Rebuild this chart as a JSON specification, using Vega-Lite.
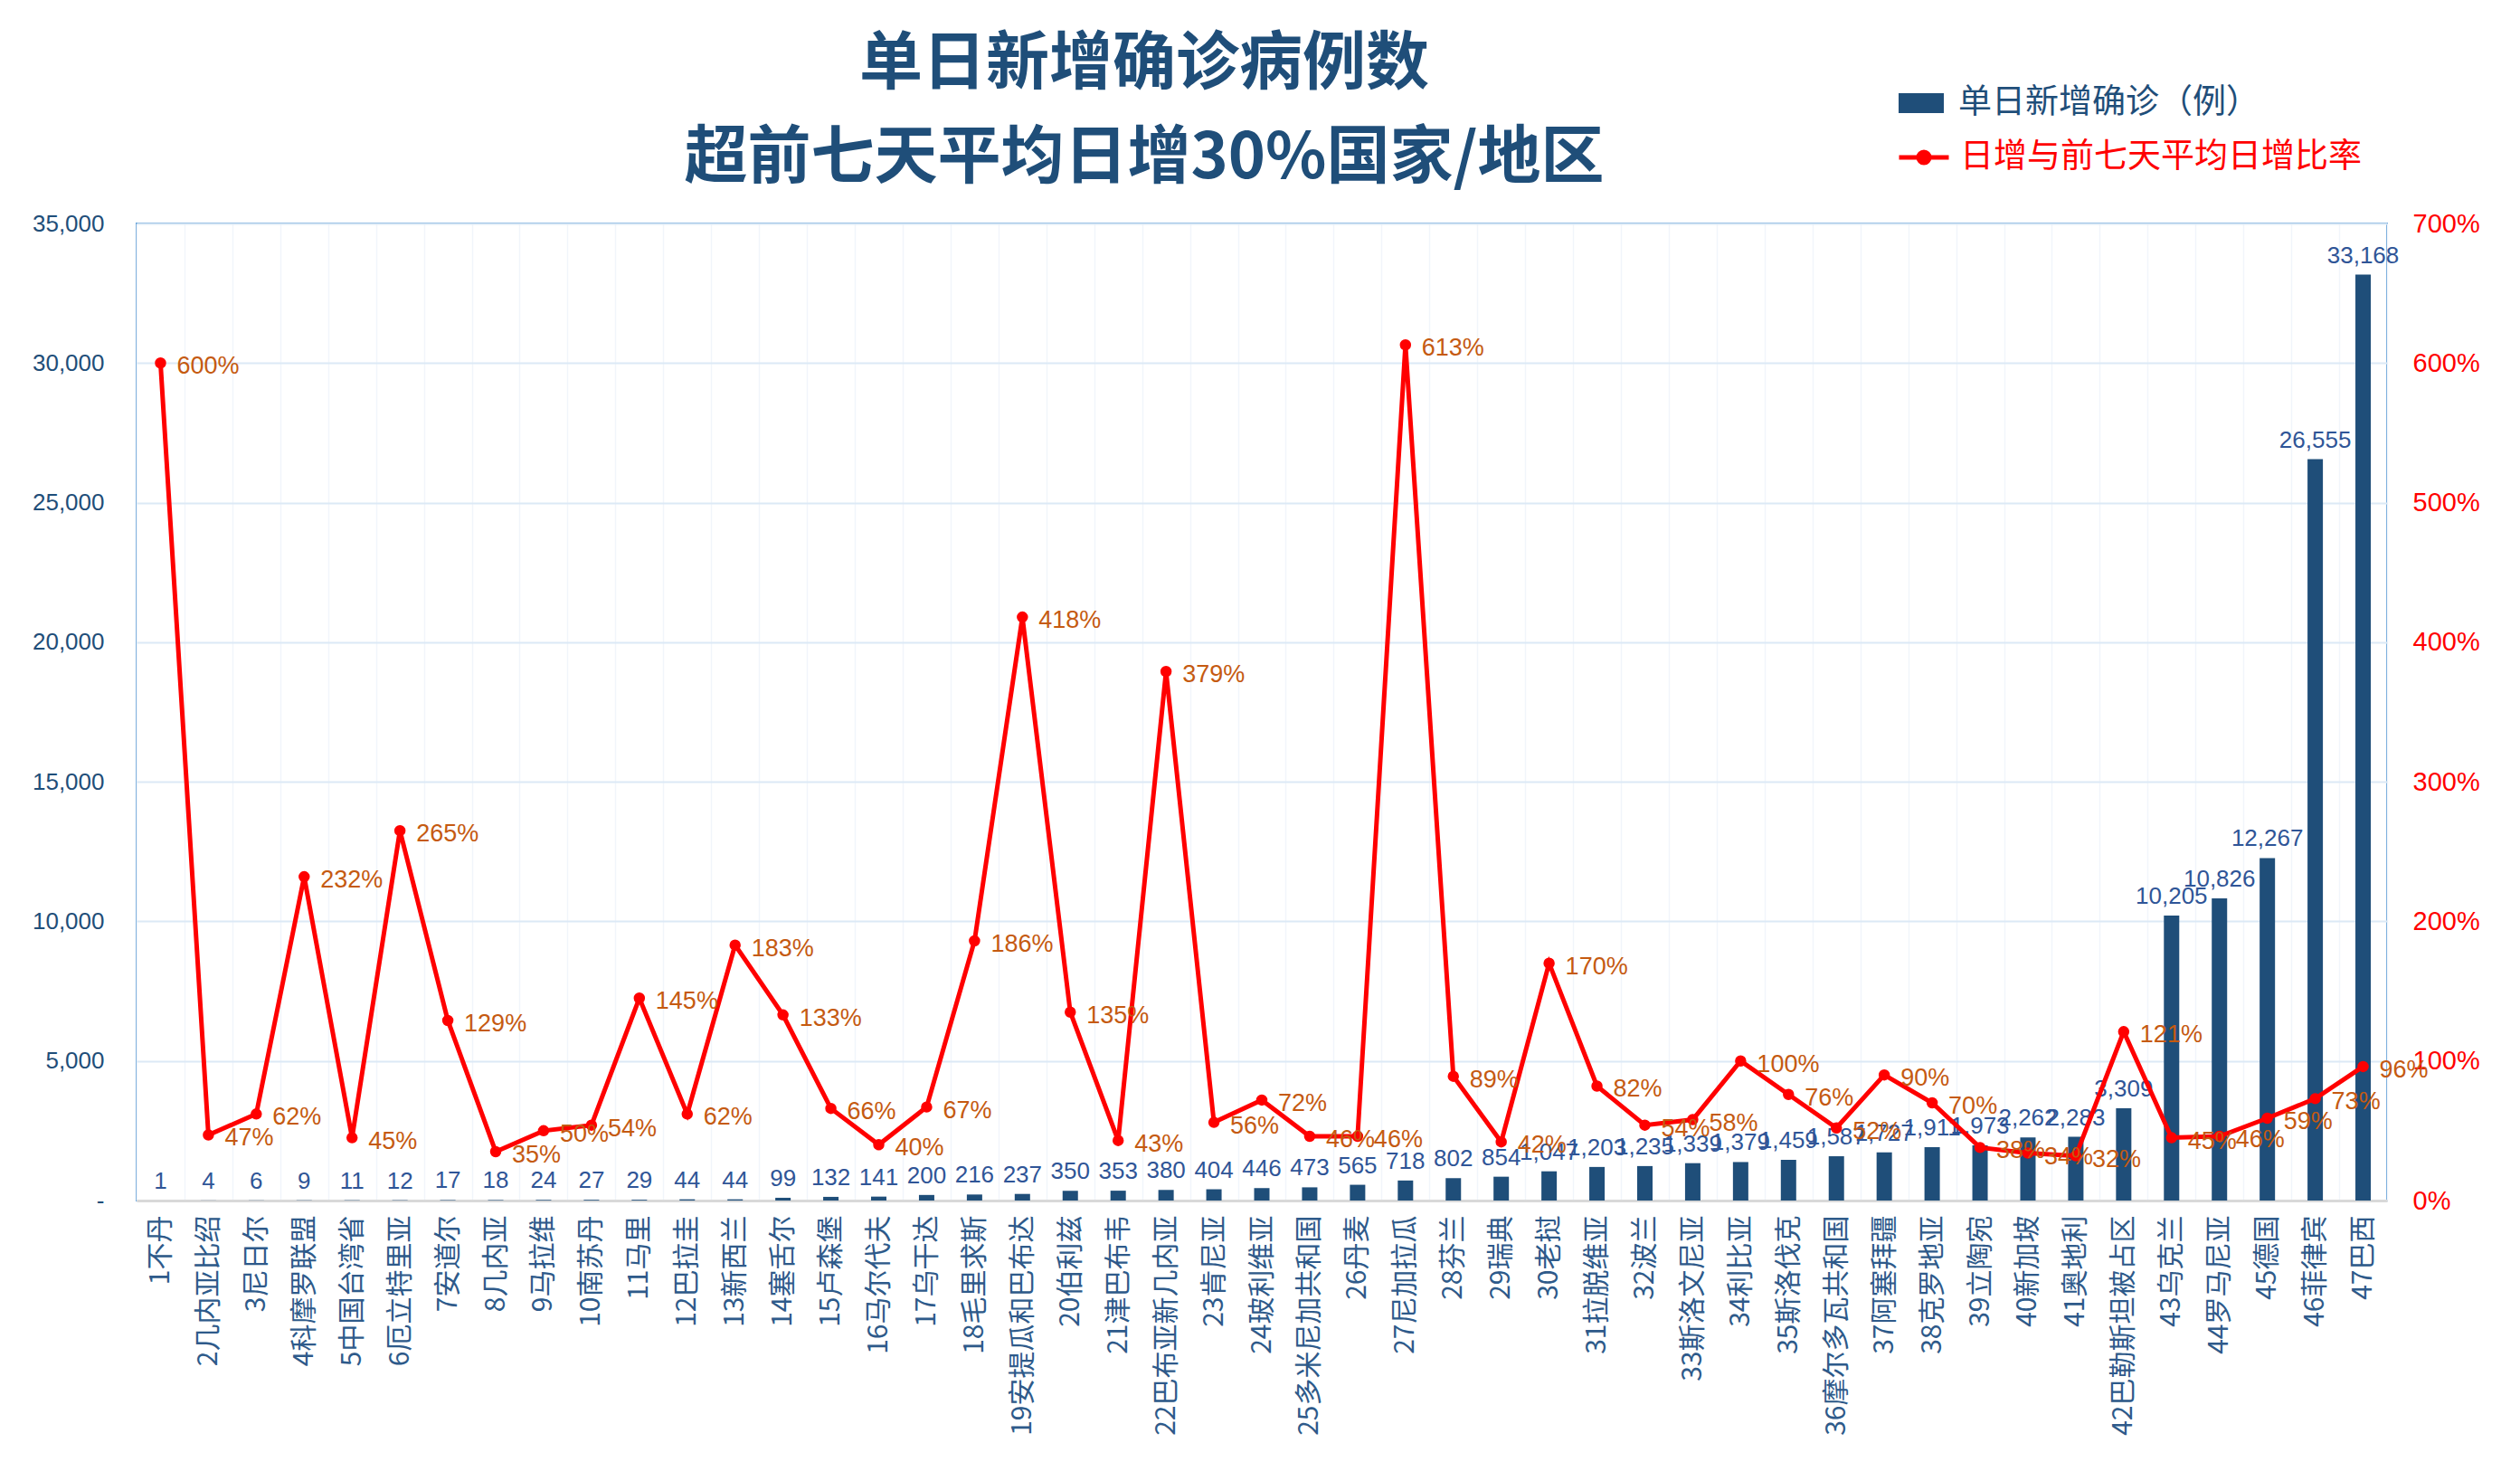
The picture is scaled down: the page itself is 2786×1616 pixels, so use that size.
{
  "$schema": "https://vega.github.io/schema/vega-lite/v6.json",
  "autosize": {"type": "none"},
  "width": 2488,
  "height": 1080,
  "padding": {"left": 151, "top": 247, "right": 147, "bottom": 289},
  "background": "white",
  "title": {
    "text": ["单日新增确诊病例数", "超前七天平均日增30%国家/地区"],
    "font": "Noto Sans CJK SC",
    "fontSize": 70,
    "fontWeight": "bold",
    "color": "#1F4E79",
    "anchor": "middle",
    "dx": -130,
    "dy": 163,
    "lineHeight": 104,
    "offset": 40
  },
  "data": {
    "values": [
      {"name": "1不丹", "cases": 1, "ratio": 6.00},
      {"name": "2几内亚比绍", "cases": 4, "ratio": 0.47},
      {"name": "3尼日尔", "cases": 6, "ratio": 0.62},
      {"name": "4科摩罗联盟", "cases": 9, "ratio": 2.32},
      {"name": "5中国台湾省", "cases": 11, "ratio": 0.45},
      {"name": "6厄立特里亚", "cases": 12, "ratio": 2.65},
      {"name": "7安道尔", "cases": 17, "ratio": 1.29},
      {"name": "8几内亚", "cases": 18, "ratio": 0.35},
      {"name": "9马拉维", "cases": 24, "ratio": 0.50},
      {"name": "10南苏丹", "cases": 27, "ratio": 0.54},
      {"name": "11马里", "cases": 29, "ratio": 1.45},
      {"name": "12巴拉圭", "cases": 44, "ratio": 0.62},
      {"name": "13新西兰", "cases": 44, "ratio": 1.83},
      {"name": "14塞舌尔", "cases": 99, "ratio": 1.33},
      {"name": "15卢森堡", "cases": 132, "ratio": 0.66},
      {"name": "16马尔代夫", "cases": 141, "ratio": 0.40},
      {"name": "17乌干达", "cases": 200, "ratio": 0.67},
      {"name": "18毛里求斯", "cases": 216, "ratio": 1.86},
      {"name": "19安提瓜和巴布达", "cases": 237, "ratio": 4.18},
      {"name": "20伯利兹", "cases": 350, "ratio": 1.35},
      {"name": "21津巴布韦", "cases": 353, "ratio": 0.43},
      {"name": "22巴布亚新几内亚", "cases": 380, "ratio": 3.79},
      {"name": "23肯尼亚", "cases": 404, "ratio": 0.56},
      {"name": "24玻利维亚", "cases": 446, "ratio": 0.72},
      {"name": "25多米尼加共和国", "cases": 473, "ratio": 0.46},
      {"name": "26丹麦", "cases": 565, "ratio": 0.46},
      {"name": "27尼加拉瓜", "cases": 718, "ratio": 6.13},
      {"name": "28芬兰", "cases": 802, "ratio": 0.89},
      {"name": "29瑞典", "cases": 854, "ratio": 0.42},
      {"name": "30老挝", "cases": 1047, "ratio": 1.70},
      {"name": "31拉脱维亚", "cases": 1203, "ratio": 0.82},
      {"name": "32波兰", "cases": 1235, "ratio": 0.54},
      {"name": "33斯洛文尼亚", "cases": 1339, "ratio": 0.58},
      {"name": "34利比亚", "cases": 1379, "ratio": 1.00},
      {"name": "35斯洛伐克", "cases": 1459, "ratio": 0.76},
      {"name": "36摩尔多瓦共和国", "cases": 1587, "ratio": 0.52},
      {"name": "37阿塞拜疆", "cases": 1727, "ratio": 0.90},
      {"name": "38克罗地亚", "cases": 1911, "ratio": 0.70},
      {"name": "39立陶宛", "cases": 1973, "ratio": 0.38},
      {"name": "40新加坡", "cases": 2262, "ratio": 0.34},
      {"name": "41奥地利", "cases": 2283, "ratio": 0.32},
      {"name": "42巴勒斯坦被占区", "cases": 3309, "ratio": 1.21},
      {"name": "43乌克兰", "cases": 10205, "ratio": 0.45},
      {"name": "44罗马尼亚", "cases": 10826, "ratio": 0.46},
      {"name": "45德国", "cases": 12267, "ratio": 0.59},
      {"name": "46菲律宾", "cases": 26555, "ratio": 0.73},
      {"name": "47巴西", "cases": 33168, "ratio": 0.96}
    ]
  },
  "encoding": {
    "x": {
      "field": "name",
      "type": "nominal",
      "sort": null,
      "scale": {"paddingInner": 0, "paddingOuter": 0},
      "axis": {
        "title": null,
        "labelAngle": -90,
        "labelFont": "Noto Sans CJK SC",
        "labelFontSize": 30,
        "labelColor": "#2E5A8A",
        "labelPadding": 16,
        "labelLimit": 400,
        "ticks": false,
        "domainColor": "#D9D9D9",
        "domainWidth": 3,
        "grid": true,
        "gridColor": "#F1F5FB",
        "gridWidth": 1.5,
        "tickBand": "extent"
      }
    }
  },
  "layer": [
    {
      "encoding": {
        "y": {
          "field": "cases",
          "type": "quantitative",
          "scale": {"domain": [0, 35000], "nice": false},
          "axis": {
            "title": null,
            "orient": "left",
            "values": [0, 5000, 10000, 15000, 20000, 25000, 30000, 35000],
            "labelExpr": "datum.value == 0 ? '-' : format(datum.value, ',')",
            "labelFont": "Liberation Sans",
            "labelFontSize": 26,
            "labelColor": "#1F4E79",
            "labelPadding": 36,
            "ticks": false,
            "domain": false,
            "grid": true,
            "gridColor": "#DCE9F6",
            "gridWidth": 2
          }
        }
      },
      "layer": [
        {
          "mark": {"type": "bar", "width": 17},
          "encoding": {
            "fill": {
              "datum": "单日新增确诊（例）",
              "scale": {"range": ["#1F4E79"]},
              "legend": {
                "orient": "none",
                "legendX": 1948,
                "legendY": -158,
                "title": null,
                "padding": 0,
                "symbolType": "M-1,-0.44H1V0.44H-1Z",
                "symbolSize": 2500,
                "symbolStrokeWidth": 0,
                "labelFont": "Noto Sans CJK SC",
                "labelFontSize": 37,
                "labelColor": "#1F4E79",
                "labelOffset": 16,
                "labelLimit": 600
              }
            }
          }
        },
        {
          "mark": {
            "type": "text",
            "baseline": "bottom",
            "dy": -8,
            "color": "#2F5597",
            "font": "Liberation Sans",
            "fontSize": 26
          },
          "encoding": {
            "text": {"field": "cases", "type": "quantitative", "format": ","}
          }
        }
      ]
    },
    {
      "encoding": {
        "y": {
          "field": "ratio",
          "type": "quantitative",
          "scale": {"domain": [0, 7], "nice": false},
          "axis": {
            "title": null,
            "orient": "right",
            "values": [0, 1, 2, 3, 4, 5, 6, 7],
            "format": ".0%",
            "labelFont": "Liberation Sans",
            "labelFontSize": 29,
            "labelColor": "#FF0000",
            "labelPadding": 28,
            "ticks": false,
            "domain": false,
            "grid": false
          }
        }
      },
      "layer": [
        {
          "mark": {
            "type": "line",
            "strokeWidth": 5,
            "point": {"filled": true, "size": 110, "color": "#FF0000"}
          },
          "encoding": {
            "stroke": {
              "datum": "日增与前七天平均日增比率",
              "scale": {"range": ["#FF0000"]},
              "legend": {
                "orient": "none",
                "legendX": 1946,
                "legendY": -103,
                "title": null,
                "padding": 0,
                "symbolType": "M-1,0H1M0.22,0A0.22,0.22 0 1,0 -0.22,0A0.22,0.22 0 1,0 0.22,0",
                "symbolSize": 3025,
                "symbolStrokeWidth": 5,
                "symbolFillColor": "#FF0000",
                "labelFont": "Noto Sans CJK SC",
                "labelFontSize": 37,
                "labelColor": "#FF0000",
                "labelOffset": 10,
                "labelLimit": 600
              }
            }
          }
        },
        {
          "mark": {
            "type": "text",
            "align": "left",
            "baseline": "middle",
            "dx": 18,
            "dy": 4,
            "color": "#C55A11",
            "font": "Liberation Sans",
            "fontSize": 27
          },
          "encoding": {
            "text": {"field": "ratio", "type": "quantitative", "format": ".0%"}
          }
        }
      ]
    }
  ],
  "resolve": {"scale": {"y": "independent"}},
  "config": {
    "view": {"stroke": "#5B9BD5", "strokeWidth": 2}
  }
}
